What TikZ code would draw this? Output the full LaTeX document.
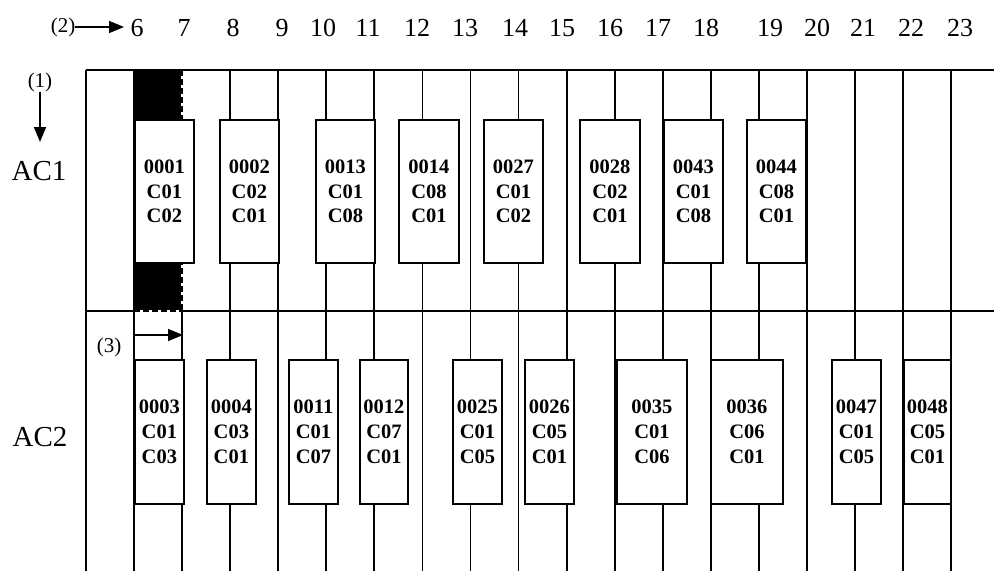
\documentclass[tikz,border=0pt]{standalone}
\usepackage{fontspec}
\setmainfont{Liberation Serif}
\usetikzlibrary{arrows.meta}
\begin{document}
\begin{tikzpicture}[x=1pt,y=-1pt,
  grid/.style={line width=1.8pt},
  slot/.style={draw, fill=white, line width=1.8pt, inner sep=0pt, anchor=north west, align=center,
    font=\fontsize{20.5}{24.7}\selectfont\bfseries},
  hour/.style={anchor=base, inner sep=0pt, font=\fontsize{26}{30}\selectfont},
  tag/.style={inner sep=0pt, font=\fontsize{21}{25}\selectfont},
  rowlabel/.style={inner sep=0pt, font=\fontsize{29}{34}\selectfont},
  arr/.style={line width=1.6pt, -{Triangle[length=15pt,width=12pt]}}
]
\useasboundingbox (0,0) rectangle (994,571);
% black column
\fill (134,70) rectangle (181,310);
% grid lines
\foreach \k in {0,1,3,4,5,6,7,8,9,10,11,12,13,14,15,16,17,18}{
  \draw[grid] ({86+48.06*\k},70) -- ({86+48.06*\k},571);
}
\draw[grid, dash pattern=on 6pt off 3pt] (182.1,70) -- (182.1,311);
\draw[grid] (182.1,311) -- (182.1,571);
\draw[grid] (86,70) -- (994,70);
\draw[grid] (86,311) -- (134,311);
\draw[grid, dash pattern=on 6pt off 3pt] (134,311) -- (182,311);
\draw[grid] (182,311) -- (994,311);
% AC1 boxes
\foreach \n/\xa/\xb/\ca/\cb in {0001/134/193/C01/C02, 0002/219/278/C02/C01, 0013/315/374/C01/C08,
  0014/398/458/C08/C01, 0027/483/542/C01/C02, 0028/579/639/C02/C01, 0043/663/722/C01/C08,
  0044/746/805/C08/C01}{
  \node[slot, minimum width={(\xb-\xa)*1pt}, minimum height=143pt] (a\n) at (\xa,119) {\n\\\ca\\\cb};
}
% AC2 boxes
\foreach \n/\xa/\xb/\ca/\cb in {0003/134/183/C01/C03, 0004/206/255/C03/C01, 0011/288/337/C01/C07,
  0012/359/407/C07/C01, 0025/452/501/C01/C05, 0026/524/573/C05/C01, 0035/616/686/C01/C06,
  0036/710/782/C06/C01, 0047/831/880/C01/C05, 0048/903/950/C05/C01}{
  \node[slot, minimum width={(\xb-\xa)*1pt}, minimum height=144pt] (b\n) at (\xa,359) {\n\\\ca\\\cb};
}
% hours
\foreach \h/\x in {6/137, 7/184, 8/233, 9/282, 10/323, 11/368, 12/417, 13/465, 14/515, 15/562,
  16/610, 17/658, 18/706, 19/770, 20/817, 21/863, 22/911, 23/960}{
  \node[hour] (h\h) at (\x,36) {\h};
}
% labels and arrows
\node[tag] (l2) at (63,27) {(2)};
\coordinate (e2) at (124,27);
\draw[arr] (l2.east) -- (e2);
\node[tag] (l1) at (40,82) {(1)};
\coordinate (e1) at (40,142);
\draw[arr] (l1.south) -- (e1);
\node[rowlabel] (ac1) at (39,171) {AC1};
\node[rowlabel] (ac2) at (40,437) {AC2};
\node[tag] (l3) at (109,347) {(3)};
\coordinate (s3) at (134,335);
\coordinate (e3) at (183,335);
\draw[arr] (s3) -- (e3);
\end{tikzpicture}
\end{document}
